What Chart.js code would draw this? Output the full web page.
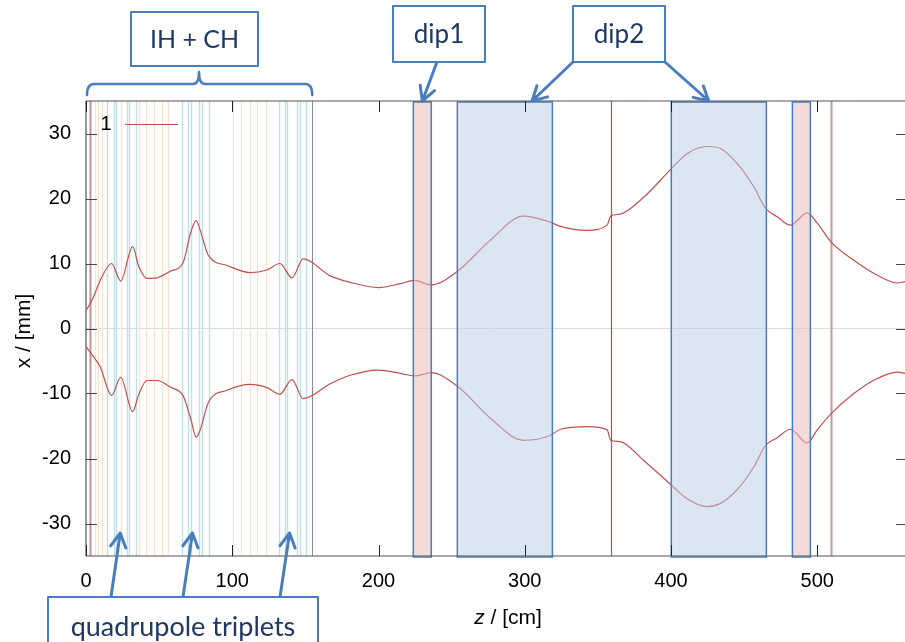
<!DOCTYPE html>
<html><head><meta charset="utf-8">
<script src="https://cdn.jsdelivr.net/npm/chart.js@4.4.1/dist/chart.umd.min.js"></script>
<style>html,body{margin:0;padding:0;background:#fff;overflow:hidden}#wrap{width:905px;height:642px;position:relative}</style>
</head><body><div id="wrap"><canvas id="c" width="905" height="642"></canvas></div>
<script>
// ---------- data ----------
const zPos   = [0, 5, 9.7, 17.5, 23.7, 31.9, 36, 41.6, 48.5, 57.6, 66.5, 71.5, 75.3, 78.1, 83.8, 96.4, 112, 123.7, 132.6, 140.8, 148.5, 167, 180.7, 200, 215, 224.5, 236, 254, 276.5, 299, 317, 324.4, 342.6, 356.3, 358.8, 365.2, 381.3, 400.3, 411, 424.7, 433.8, 445.2, 456.6, 464.6, 472.6, 481.7, 493.1, 500, 509.5, 525, 541, 554.7, 560];
const upperX = [2.7, 4.8, 7.4, 10.0, 7.3, 12.6, 9.6, 7.7, 7.8, 8.8, 10.2, 14.7, 16.6, 15.1, 11.2, 9.7, 8.6, 9.0, 10.0, 7.8, 10.7, 8.1, 7.1, 6.3, 6.9, 7.4, 6.7, 8.8, 13.6, 17.3, 16.4, 15.7, 15.1, 15.9, 17.3, 17.6, 20.2, 24.6, 26.9, 28.0, 27.7, 25.4, 21.8, 18.5, 17.2, 15.9, 17.8, 16.2, 13.3, 10.5, 8.2, 7.0, 7.2];
const lowerX = [-2.8, -4.3, -5.9, -10.3, -7.5, -12.8, -10.2, -8.0, -8.0, -9.0, -10.4, -13.8, -16.7, -15.6, -11.3, -9.5, -8.6, -9.1, -10.1, -7.85, -10.8, -8.5, -7.2, -6.4, -6.9, -7.3, -6.8, -8.9, -13.8, -17.2, -16.5, -15.5, -15.1, -15.6, -17.2, -17.4, -20.3, -24.1, -26.2, -27.4, -26.9, -24.8, -21.3, -18.0, -16.8, -15.5, -17.6, -15.6, -13.1, -10.0, -7.7, -6.7, -6.9];
const xTickValues = [0, 100, 200, 300, 400, 500];
const yTickValues = [-30, -20, -10, 0, 10, 20, 30];
const seriesLabel = '1';
// element positions along z [cm]
const cavityLinesZ = [6.1, 7.9, 10.6, 24.1, 36.4, 41.0, 46.6, 51.9, 56.4, 100.2, 105.7, 111.8, 117.1, 122.8];
const quadLinesZ   = [14.7, 19.3, 20.7, 27.7, 29.1, 34.1, 65.6, 69.7, 72.0, 77.6, 79.5, 83.8, 131.9, 135.8, 137.6, 144.5, 146.4, 150.1];
const startLineZ = 2.9;
const linacEndZ = 154.7;
const dip1Ranges = [[223.8, 236.1], [483.0, 495.3]];
const dip2Ranges = [[253.9, 318.9], [400.2, 465.2]];
const steererLinesZ = [358.8];
const exitLinesZ = [509.7];
const tripletArrowZ = [23.4, 72.8, 139.2];
const dip1ArrowZ = [230.0];
const dip2ArrowZ = [305.0, 425.8];
const annotationTexts = {ihch: 'IH + CH', dip1: 'dip1', dip2: 'dip2', quad: 'quadrupole triplets'};

// ---------- styling ----------
const FONT = "'Liberation Sans', Arial, sans-serif";
const AFONT = "Lato, 'Open Sans', sans-serif";
const CURVE = '#c0504d';
const ABLUE = '#4a7ebb';
const ATEXT = '#1f3864';

function arrow(ctx, x1, y1, x2, y2) {
  const a = Math.atan2(y2 - y1, x2 - x1), L = 16, s = 0.5;
  ctx.beginPath();
  ctx.moveTo(x1, y1); ctx.lineTo(x2, y2);
  ctx.moveTo(x2 - L * Math.cos(a - s), y2 - L * Math.sin(a - s));
  ctx.lineTo(x2, y2);
  ctx.lineTo(x2 - L * Math.cos(a + s), y2 - L * Math.sin(a + s));
  ctx.stroke();
}
function textBox(ctx, x, y, w, h, text, size) {
  ctx.fillStyle = '#fff'; ctx.fillRect(x, y, w, h);
  ctx.strokeStyle = ABLUE; ctx.lineWidth = 2; ctx.strokeRect(x, y, w, h);
  ctx.fillStyle = ATEXT; ctx.font = size + 'px ' + AFONT;
  ctx.textAlign = 'center'; ctx.textBaseline = 'middle';
  ctx.fillText(text, x + w / 2, y + h / 2 + 1);
}

const overlay = {
  id: 'overlay',
  beforeDraw(chart) {
    const ctx = chart.ctx; ctx.save(); ctx.fillStyle = '#fff';
    ctx.fillRect(0, 0, chart.width, chart.height); ctx.restore();
  },
  beforeDatasetsDraw(chart) {
    const {ctx, chartArea: a, scales: {x}} = chart;
    ctx.save();
    ctx.beginPath(); ctx.rect(a.left, a.top, a.right - a.left, a.bottom - a.top); ctx.clip();
    const vline = (z, col, w) => {
      const px = Math.round(x.getPixelForValue(z)) + 0.5;
      ctx.strokeStyle = col; ctx.lineWidth = w;
      ctx.beginPath(); ctx.moveTo(px, a.top); ctx.lineTo(px, a.bottom); ctx.stroke();
    };
    cavityLinesZ.forEach(z => vline(z, '#f8e2d0', 1.3));
    quadLinesZ.forEach(z => vline(z, '#c2dfe8', 1.4));
    vline(startLineZ, '#b99595', 2);
    vline(linacEndZ, '#8c8c8c', 1);
    steererLinesZ.forEach(z => vline(z, '#b5504e', 1.2));
    exitLinesZ.forEach(z => vline(z, '#c49a9a', 2));
    ctx.restore();
  },
  afterDatasetsDraw(chart) {
    const {ctx, chartArea: a, scales: {x, y}} = chart;
    ctx.save();
    // shaded magnet regions
    const rect = (r, fill) => {
      const x1 = x.getPixelForValue(r[0]), x2 = x.getPixelForValue(r[1]);
      ctx.fillStyle = fill; ctx.fillRect(x1, a.top, x2 - x1, a.bottom - a.top);
      ctx.strokeStyle = ABLUE; ctx.lineWidth = 1.5;
      ctx.strokeRect(x1, a.top + 1, x2 - x1, a.bottom - a.top);
    };
    dip1Ranges.forEach(r => rect(r, 'rgba(232,190,188,0.55)'));
    dip2Ranges.forEach(r => rect(r, 'rgba(185,205,230,0.5)'));
    // frame
    ctx.strokeStyle = '#777'; ctx.lineWidth = 1.5;
    ctx.beginPath(); ctx.moveTo(a.left, a.top); ctx.lineTo(a.left, a.bottom); ctx.stroke();
    ctx.strokeStyle = '#555'; ctx.lineWidth = 1.2;
    ctx.beginPath(); ctx.moveTo(a.left, a.top); ctx.lineTo(a.right, a.top);
    ctx.moveTo(a.left, a.bottom); ctx.lineTo(a.right, a.bottom); ctx.stroke();
    // inward ticks (gnuplot style)
    ctx.strokeStyle = '#222'; ctx.lineWidth = 1;
    x.ticks.forEach(t => {
      const px = Math.round(x.getPixelForValue(t.value)) + 0.5;
      ctx.beginPath(); ctx.moveTo(px, a.bottom); ctx.lineTo(px, a.bottom - 11);
      ctx.moveTo(px, a.top); ctx.lineTo(px, a.top + 11); ctx.stroke();
    });
    ctx.strokeStyle = '#444';
    y.ticks.forEach(t => {
      const py = Math.round(y.getPixelForValue(t.value)) + 0.5;
      ctx.beginPath(); ctx.moveTo(a.left, py); ctx.lineTo(a.left + 11, py);
      ctx.moveTo(a.right, py); ctx.lineTo(a.right - 9, py); ctx.stroke();
    });
    // legend
    ctx.fillStyle = '#000'; ctx.font = '20px ' + FONT;
    ctx.textAlign = 'center'; ctx.textBaseline = 'middle';
    ctx.fillText(seriesLabel, a.left + 20, a.top + 23);
    ctx.strokeStyle = CURVE; ctx.lineWidth = 1.2;
    ctx.beginPath(); ctx.moveTo(a.left + 39, a.top + 23.5); ctx.lineTo(a.left + 92, a.top + 23.5); ctx.stroke();
    // axis titles
    ctx.fillStyle = '#000';
    const TS = 21;
    ctx.font = 'italic ' + TS + 'px ' + FONT;
    const zt = 'z', rest = ' / [cm]';
    const w1 = ctx.measureText(zt).width;
    ctx.font = TS + 'px ' + FONT;
    const w2 = ctx.measureText(rest).width;
    const cx = 508, cy = 618;
    ctx.textAlign = 'left';
    ctx.font = 'italic ' + TS + 'px ' + FONT; ctx.fillText(zt, cx - (w1 + w2) / 2, cy);
    ctx.font = TS + 'px ' + FONT; ctx.fillText(rest, cx - (w1 + w2) / 2 + w1, cy);
    ctx.save(); ctx.translate(24, 331); ctx.rotate(-Math.PI / 2);
    ctx.textAlign = 'center'; ctx.fillText('x / [mm]', 0, 0); ctx.restore();
    // annotations
    ctx.strokeStyle = ABLUE; ctx.lineWidth = 2.5; ctx.lineCap = 'round'; ctx.lineJoin = 'round';
    // brace over IH + CH
    const bl = a.left + 1, br = x.getPixelForValue(linacEndZ), bm = 199;
    ctx.beginPath();
    ctx.moveTo(bl, 95); ctx.quadraticCurveTo(bl, 84, bl + 7, 84);
    ctx.lineTo(bm - 6, 84); ctx.quadraticCurveTo(bm, 84, bm, 72);
    ctx.quadraticCurveTo(bm, 84, bm + 6, 84);
    ctx.lineTo(br - 7, 84); ctx.quadraticCurveTo(br, 84, br, 95);
    ctx.stroke();
    textBox(ctx, 131, 12, 127, 54, annotationTexts.ihch, 25);
    // dip1
    ctx.strokeStyle = ABLUE; ctx.lineWidth = 3;
    dip1ArrowZ.forEach(z => arrow(ctx, 437, 62, x.getPixelForValue(z), a.top));
    textBox(ctx, 393, 6, 92, 56, annotationTexts.dip1, 26);
    // dip2
    ctx.strokeStyle = ABLUE; ctx.lineWidth = 3;
    arrow(ctx, 573, 62, x.getPixelForValue(dip2ArrowZ[0]), a.top);
    arrow(ctx, 665, 62, x.getPixelForValue(dip2ArrowZ[1]), a.top);
    textBox(ctx, 573, 6, 92, 56, annotationTexts.dip2, 26);
    // quadrupole triplets
    ctx.strokeStyle = ABLUE; ctx.lineWidth = 3;
    const qsrc = [111, 183, 280];
    tripletArrowZ.forEach((z, i) => arrow(ctx, qsrc[i], 597, x.getPixelForValue(z), 533));
    textBox(ctx, 48, 597, 270, 58, annotationTexts.quad, 27);
    ctx.restore();
  }
};

const mk = vals => zPos.map((z, i) => ({x: z, y: vals[i]}));
new Chart(document.getElementById('c'), {
  type: 'line',
  data: {datasets: [
    {label: seriesLabel, data: mk(upperX), borderColor: CURVE, borderWidth: 1.2, pointRadius: 0, fill: false, cubicInterpolationMode: 'monotone'},
    {label: seriesLabel + ' ', data: mk(lowerX), borderColor: CURVE, borderWidth: 1.2, pointRadius: 0, fill: false, cubicInterpolationMode: 'monotone'}
  ]},
  options: {
    responsive: false, animation: false, devicePixelRatio: 1,
    layout: {padding: {top: 101, left: 0, right: 0, bottom: 0}},
    plugins: {legend: {display: false}, tooltip: {enabled: false}},
    scales: {
      x: {type: 'linear', min: 0, max: 560,
        afterFit: s => { s.height = 86; },
        afterBuildTicks: s => { s.ticks = xTickValues.map(v => ({value: v})); },
        ticks: {includeBounds: false, color: '#000', padding: 13, font: {family: FONT, size: 20}, maxRotation: 0},
        grid: {display: false, drawTicks: false}, border: {display: false}},
      y: {type: 'linear', min: -35, max: 35,
        afterFit: s => { s.width = 86; },
        afterBuildTicks: s => { s.ticks = yTickValues.map(v => ({value: v})); },
        ticks: {includeBounds: false, color: '#000', padding: 15, font: {family: FONT, size: 20}},
        grid: {drawTicks: false, lineWidth: 1, color: c => (c.tick && c.tick.value === 0) ? '#dcdcdc' : 'rgba(0,0,0,0)'},
        border: {display: false}}
    }
  },
  plugins: [overlay]
});
</script></body></html>
